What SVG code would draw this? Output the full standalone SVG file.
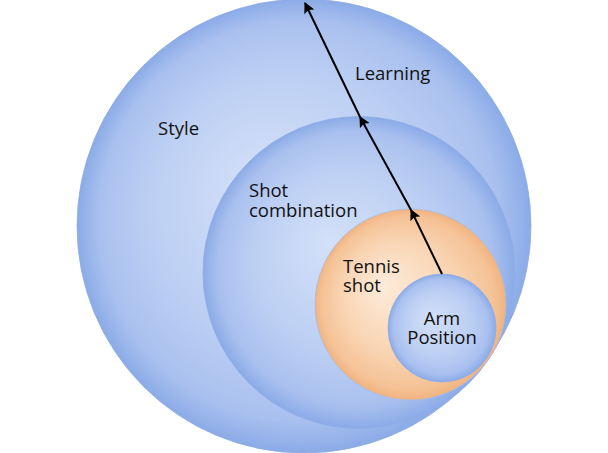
<svg xmlns="http://www.w3.org/2000/svg" width="608" height="453" viewBox="0 0 608 453">
<defs>
<radialGradient id="gBlue" cx="0.5" cy="0.5" r="0.5" fx="0.4" fy="0.4">
<stop offset="0" stop-color="#d3e0f8"/>
<stop offset="0.6" stop-color="#bccff3"/>
<stop offset="0.88" stop-color="#a9c0ef"/>
<stop offset="1" stop-color="#8babe7"/>
</radialGradient>
<radialGradient id="gOrange" cx="0.5" cy="0.5" r="0.5" fx="0.35" fy="0.4">
<stop offset="0" stop-color="#fdebda"/>
<stop offset="0.6" stop-color="#f9d4b2"/>
<stop offset="0.9" stop-color="#f5c296"/>
<stop offset="1" stop-color="#f1b37f"/>
</radialGradient>
<marker id="arr" viewBox="0 0 10 10" refX="9" refY="5" markerWidth="12" markerHeight="11" markerUnits="userSpaceOnUse" orient="auto">
<path d="M0,0 L10,5 L0,10 L2,5 Z" fill="#000"/>
</marker>
</defs>
<style>
.lbl{font-family:"Open Sans","Liberation Sans",sans-serif;font-size:18.5px;fill:#111;}
.blue{fill:url(#gBlue);stroke:#8fade6;stroke-width:0.8;}
.orange{fill:url(#gOrange);stroke:#a8bbe4;stroke-width:0.8;}
.conn{stroke:#000;stroke-width:2;fill:none;}
</style>
<g id="style">
<circle class="blue" cx="304" cy="226" r="227"/>
<text class="lbl" x="158" y="135">Style</text>
<text class="lbl" x="355" y="80">Learning</text>
</g>
<g id="shot-combination">
<circle class="blue" cx="359" cy="272.5" r="156"/>
<text class="lbl" x="249" y="197">Shot</text>
<text class="lbl" x="249" y="217">combination</text>
</g>
<g id="tennis-shot">
<circle class="orange" cx="410.5" cy="304.5" r="95.5"/>
<text class="lbl" x="343" y="273">Tennis</text>
<text class="lbl" x="343" y="292">shot</text>
</g>
<g id="arm-position">
<circle class="blue" cx="442" cy="328" r="54"/>
<text class="lbl" x="442" y="325" text-anchor="middle">Arm</text>
<text class="lbl" x="442" y="344" text-anchor="middle">Position</text>
</g>
<g id="connectors">
<line class="conn" x1="442" y1="274" x2="411" y2="210" marker-end="url(#arr)"/>
<line class="conn" x1="411" y1="210" x2="360" y2="117" marker-end="url(#arr)"/>
<line class="conn" x1="360" y1="117" x2="305" y2="3" marker-end="url(#arr)"/>
</g>
</svg>
